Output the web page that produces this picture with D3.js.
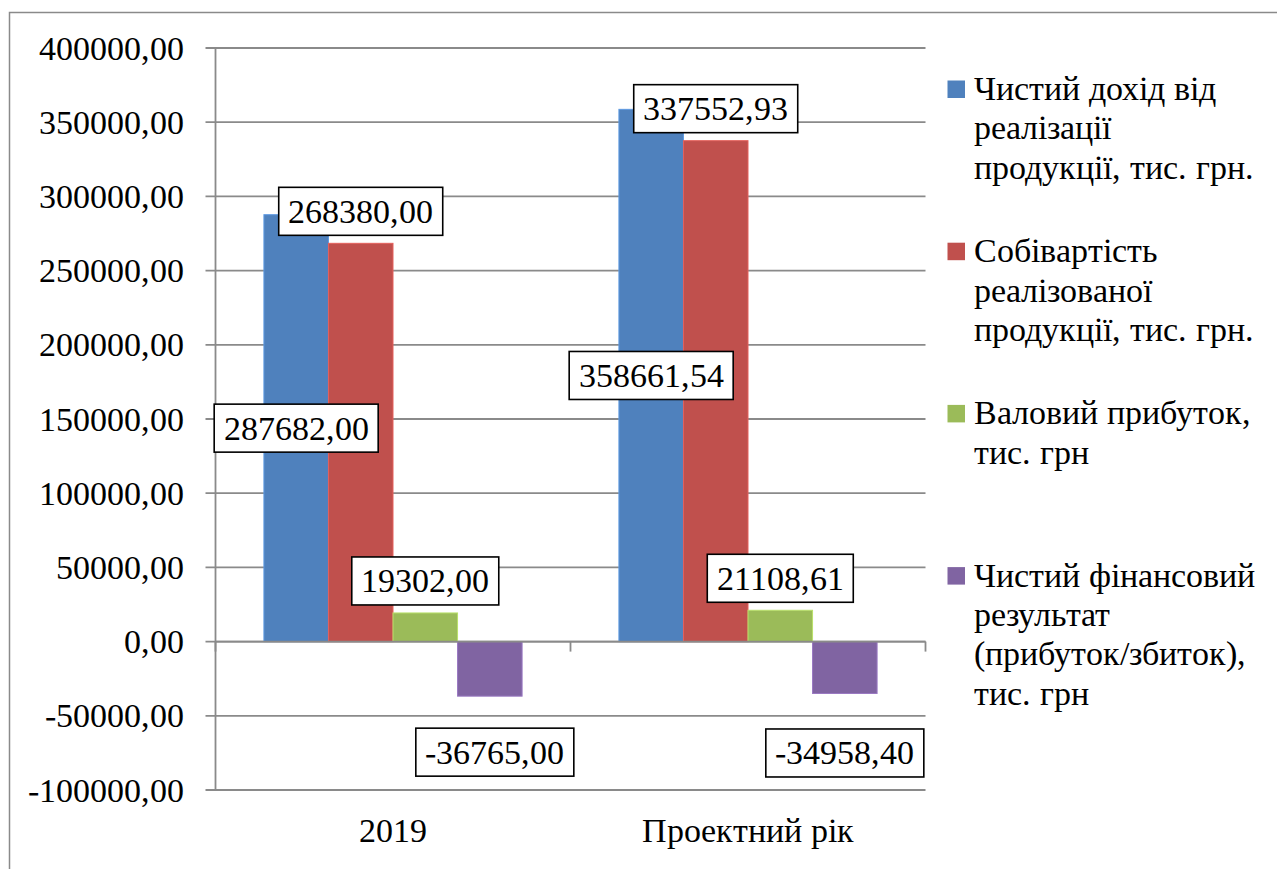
<!DOCTYPE html>
<html>
<head>
<meta charset="utf-8">
<script src="https://cdn.jsdelivr.net/npm/d3@7"></script>
<style>
  @font-face { font-family: "ChartSerif"; src: local("Liberation Serif"), local("LiberationSerif"), local("LiberationSerif-Regular"); }
</style>
</head>
<body style="margin:0">
<svg id="chart" width="1277" height="869" style="display:block">
  <g id="root" font-family="ChartSerif, 'Liberation Serif', serif"></g>
</svg>
<script>
// Categories and series values (тис. грн)
const categories = ["2019", "Проектний рік"];
const netRevenue  = [287682.00, 358661.54];
const costOfSales = [268380.00, 337552.93];
const grossProfit = [19302.00, 21108.61];
const netResult   = [-36765.00, -34958.40];
const yTicks = [-100000, -50000, 0, 50000, 100000, 150000, 200000, 250000, 300000, 350000, 400000];

// Legend entries, already broken into lines
const seriesLabels = [
  ["Чистий дохід від", "реалізації", "продукції, тис. грн."],
  ["Собівартість", "реалізованої", "продукції, тис. грн."],
  ["Валовий прибуток,", "тис. грн"],
  ["Чистий фінансовий", "результат", "(прибуток/збиток),", "тис. грн"]
];
const seriesValues = [netRevenue, costOfSales, grossProfit, netResult];
const seriesColors = ["#4F81BD", "#C0504D", "#9BBB59", "#8064A2"];

// Data-label placement per series: "center" of the bar, or an offset from the bar end
const labelPlacement = [
  [{ mode: "center", dx: 0, dy: 0 }, { mode: "center", dx: 0, dy: 0 }],
  [{ mode: "end", dx: 0, dy: -32 }, { mode: "end", dx: 0, dy: -32 }],
  [{ mode: "end", dx: 0, dy: -32 }, { mode: "end", dx: 0, dy: -32 }],
  [{ mode: "end", dx: 5, dy: 56 }, { mode: "end", dx: 0, dy: 59.5 }]
];

const FONT = "ChartSerif, 'Liberation Serif', serif";
const fmt = d3.formatLocale({ decimal: ",", thousands: "", grouping: [3], currency: ["", ""], minus: "-" }).format(".2f");
const GRID = "#8a8a8a";

function draw() {
  const svg = d3.select("#root");
  svg.selectAll("*").remove();

  // Outer chart frame
  svg.append("path")
    .attr("d", "M9.5,869 V12.5 H1277")
    .attr("fill", "none").attr("stroke", GRID).attr("stroke-width", 1.5);

  const plot = { left: 215.5, right: 925.5, top: 48, bottom: 790 };

  const x0 = d3.scaleBand().domain(categories).range([plot.left, plot.right]).paddingInner(0).paddingOuter(0);
  const barW = x0.bandwidth() / 5.5;           // 4 bars + 150% gap
  const x1 = d3.scaleBand().domain(d3.range(seriesValues.length))
    .range([barW * 0.75, barW * 0.75 + barW * 4]).padding(0);
  const y = d3.scaleLinear().domain([-100000, 400000]).range([plot.bottom, plot.top]);

  // Horizontal gridlines with outside tick marks
  svg.append("g").selectAll("line").data(yTicks).join("line")
    .attr("x1", plot.left - 10).attr("x2", plot.right)
    .attr("y1", d => y(d)).attr("y2", d => y(d))
    .attr("stroke", GRID).attr("stroke-width", 1.8);

  // Y tick labels
  svg.append("g").selectAll("text").data(yTicks).join("text")
    .attr("x", 184).attr("y", d => y(d) + 11.5)
    .attr("text-anchor", "end")
    .attr("font-family", FONT)
    .attr("font-size", 34)
    .text(d => fmt(d));

  // Bars
  const bars = [];
  seriesValues.forEach((vals, s) => {
    vals.forEach((v, c) => bars.push({ s, c, v }));
  });
  svg.append("g").selectAll("rect").data(bars).join("rect")
    .attr("x", d => x0(categories[d.c]) + x1(d.s))
    .attr("width", x1.bandwidth())
    .attr("y", d => Math.min(y(d.v), y(0)))
    .attr("height", d => Math.abs(y(d.v) - y(0)))
    .attr("fill", d => seriesColors[d.s])
    .attr("stroke", d => d3.color(seriesColors[d.s]).brighter(0.5))
    .attr("stroke-width", 1);

  // Value axis line
  svg.append("line")
    .attr("x1", plot.left).attr("x2", plot.left)
    .attr("y1", plot.top).attr("y2", plot.bottom)
    .attr("stroke", GRID).attr("stroke-width", 1.8);

  // Category axis (zero line) with tick marks between categories
  svg.append("line")
    .attr("x1", plot.left).attr("x2", plot.right)
    .attr("y1", y(0)).attr("y2", y(0))
    .attr("stroke", GRID).attr("stroke-width", 1.8);
  const catEdges = categories.map(c => x0(c)).concat([plot.right]);
  svg.append("g").selectAll("line").data(catEdges).join("line")
    .attr("x1", d => d).attr("x2", d => d)
    .attr("y1", y(0)).attr("y2", y(0) + 10)
    .attr("stroke", GRID).attr("stroke-width", 1.8);

  // Category labels
  svg.append("g").selectAll("text").data(categories).join("text")
    .attr("x", d => x0(d) + x0.bandwidth() / 2)
    .attr("y", 842)
    .attr("text-anchor", "middle")
    .attr("font-family", FONT)
    .attr("font-size", 34)
    .text(d => d);

  // Boxed data labels
  const lg = svg.append("g");
  bars.forEach(d => {
    const p = labelPlacement[d.s][d.c];
    const cx = x0(categories[d.c]) + x1(d.s) + x1.bandwidth() / 2 + p.dx;
    const cy = p.mode === "center" ? (y(d.v) + y(0)) / 2 : y(d.v) + p.dy;
    const g = lg.append("g");
    const rect = g.append("rect").attr("fill", "#fff").attr("stroke", "#000").attr("stroke-width", 1.6);
    const t = g.append("text")
      .attr("x", cx).attr("y", cy + 11.5)
      .attr("text-anchor", "middle")
      .attr("font-family", FONT)
      .attr("font-size", 34)
      .text(fmt(d.v));
    const w = t.node().getComputedTextLength() + 19;
    rect.attr("x", cx - w / 2).attr("y", cy - 24).attr("width", w).attr("height", 48);
  });

  // Legend
  const legend = svg.append("g");
  seriesLabels.forEach((lines, i) => {
    const base = 100 + i * 162.2;
    legend.append("rect")
      .attr("x", 947.5).attr("y", base - 19.5)
      .attr("width", 17.5).attr("height", 17.5)
      .attr("fill", seriesColors[i]);
    const t = legend.append("text").attr("font-family", FONT).attr("font-size", 34);
    lines.forEach((ln, k) => {
      t.append("tspan").attr("x", 973.5).attr("y", base + k * 39.3).text(ln);
    });
  });
}

draw();
// Redraw once the serif face is ready so box widths use its metrics
if (document.fonts && document.fonts.load) {
  document.fonts.load('34px ChartSerif', "Чистий 0123456789,").then(draw, () => {});
}
</script>
</body>
</html>
